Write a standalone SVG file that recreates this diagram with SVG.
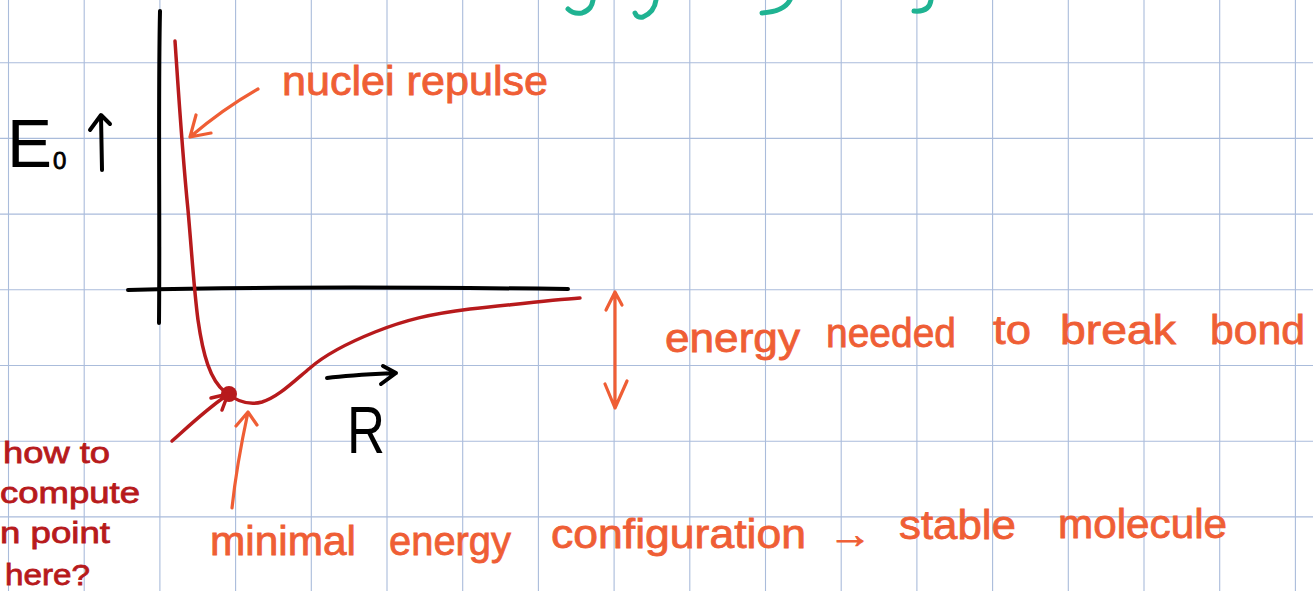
<svg xmlns="http://www.w3.org/2000/svg" width="1313" height="591" viewBox="0 0 1313 591">
<style>
.grid{stroke:#aabcdb;stroke-width:1.1;fill:none}
.blk{stroke:#000;stroke-width:4;fill:none;stroke-linecap:round;stroke-linejoin:round}
.red{stroke:#b71a1c;stroke-width:3.5;fill:none;stroke-linecap:round;stroke-linejoin:round}
.org{stroke:#ef5e35;stroke-width:3.2;fill:none;stroke-linecap:round;stroke-linejoin:round}
.teal{stroke:#1fb392;stroke-width:5;fill:none;stroke-linecap:round}
.to{font-family:"Liberation Sans",Arial,sans-serif;fill:#ef5e35;stroke:#ef5e35;stroke-width:0.8;font-size:40px}
.tr{font-family:"Liberation Sans",Arial,sans-serif;fill:#b71a1c;stroke:#b71a1c;stroke-width:0.8;font-size:30px}
.tb{font-family:"Liberation Sans",Arial,sans-serif;fill:#000}
</style>
<rect width="1313" height="591" fill="#fff"/>
<g id="grid">
<path class="grid" d="M8.5,0V591M84.2,0V591M159.9,0V591M235.6,0V591M311.3,0V591M387,0V591M462.7,0V591M538.4,0V591M614.1,0V591M689.8,0V591M765.5,0V591M841.2,0V591M916.9,0V591M992.6,0V591M1068.3,0V591M1144,0V591M1219.7,0V591M1295.4,0V591"/>
<path class="grid" d="M0,62.7H1313M0,138.4H1313M0,214.1H1313M0,289.8H1313M0,365.5H1313M0,441.2H1313M0,516.9H1313"/>
</g>
<g id="teal-fragments">
<path class="teal" d="M593,0 C592,6 590,10 582,13 C576,14 571,12 568,9"/>
<path class="teal" d="M656,0 C655,8 650,14 643,17 C639,18 636,16 635,13"/>
<path class="teal" d="M790,0 C786,8 778,12 762,13"/>
<path class="teal" d="M931,0 C930,8 925,12 914,11"/>
</g>
<g id="axes">
<path class="blk" d="M160,11 C158,100 160,220 159,323"/>
<path class="blk" d="M128,290 C250,287 400,287 568,289"/>
</g>
<g id="curve">
<path class="red" d="M175,41 C177,70 182,150 188,210 C192,255 194,290 198,320 C203,355 210,380 225,392 C235,400 248,406 262,402 C278,397 292,383 310,368 C326,354 345,344 375,332 C405,320 430,314 470,309 C510,305 550,300 580,298"/>
<circle cx="229" cy="394" r="8" fill="#b71a1c"/>
</g>
<g id="ylabel">
<text class="tb" x="7" y="167" font-size="68" textLength="45" lengthAdjust="spacingAndGlyphs">E</text>
<text class="tb" x="53" y="169" font-size="24" stroke="#000" stroke-width="0.8">0</text>
<path class="blk" d="M102,170 L101,116 M90,130 L101,115 L110,124" stroke-width="3.5"/>
</g>
<g id="xlabel">
<path class="blk" d="M327,378 C350,375 375,374 396,373 M383,366 L396,373 L381,384" stroke-width="3.5"/>
<text class="tb" x="347" y="453" font-size="66" textLength="38" lengthAdjust="spacingAndGlyphs">R</text>
</g>
<g id="connectors">
<path class="org" d="M258,89 C235,102 210,120 190,137 M196,115 L190,137 L211,133"/>
<path class="org" d="M232,508 C236,470 242,440 248,412 M236,426 L248,412 L257,425"/>
<path class="org" d="M615,292 L615,408 M606,310 L615,292 L622,305 M605,384 L615,408 L627,381"/>
<path class="red" d="M172,441 C190,425 208,408 226,396 M211,398 L228,394 L222,410" stroke-width="3"/>
</g>
<g id="label-repulse">
<text class="to" x="282" y="95" textLength="266" lengthAdjust="spacingAndGlyphs">nuclei repulse</text>
</g>
<g id="label-bond">
<text class="to" x="665" y="352" textLength="135" lengthAdjust="spacingAndGlyphs">energy</text>
<text class="to" x="826" y="347" textLength="130" lengthAdjust="spacingAndGlyphs">needed</text>
<text class="to" x="993" y="344" textLength="38" lengthAdjust="spacingAndGlyphs">to</text>
<text class="to" x="1060" y="344" textLength="116" lengthAdjust="spacingAndGlyphs">break</text>
<text class="to" x="1210" y="344" textLength="95" lengthAdjust="spacingAndGlyphs">bond</text>
</g>
<g id="label-minimal">
<text class="to" x="210" y="555" textLength="146" lengthAdjust="spacingAndGlyphs">minimal</text>
<text class="to" x="389" y="555" textLength="122" lengthAdjust="spacingAndGlyphs">energy</text>
<text class="to" x="551" y="548" textLength="255" lengthAdjust="spacingAndGlyphs">configuration</text>
<text class="to" x="828" y="548" font-size="52" textLength="44" lengthAdjust="spacingAndGlyphs">→</text>
<text class="to" x="899" y="539" textLength="117" lengthAdjust="spacingAndGlyphs">stable</text>
<text class="to" x="1058" y="538" textLength="169" lengthAdjust="spacingAndGlyphs">molecule</text>
</g>
<g id="label-question">
<text class="tr" x="3" y="463" textLength="107" lengthAdjust="spacingAndGlyphs">how to</text>
<text class="tr" x="0" y="503" textLength="140" lengthAdjust="spacingAndGlyphs">compute</text>
<text class="tr" x="0" y="543" textLength="110" lengthAdjust="spacingAndGlyphs">n point</text>
<text class="tr" x="5" y="585" textLength="85" lengthAdjust="spacingAndGlyphs">here?</text>
</g>
</svg>
